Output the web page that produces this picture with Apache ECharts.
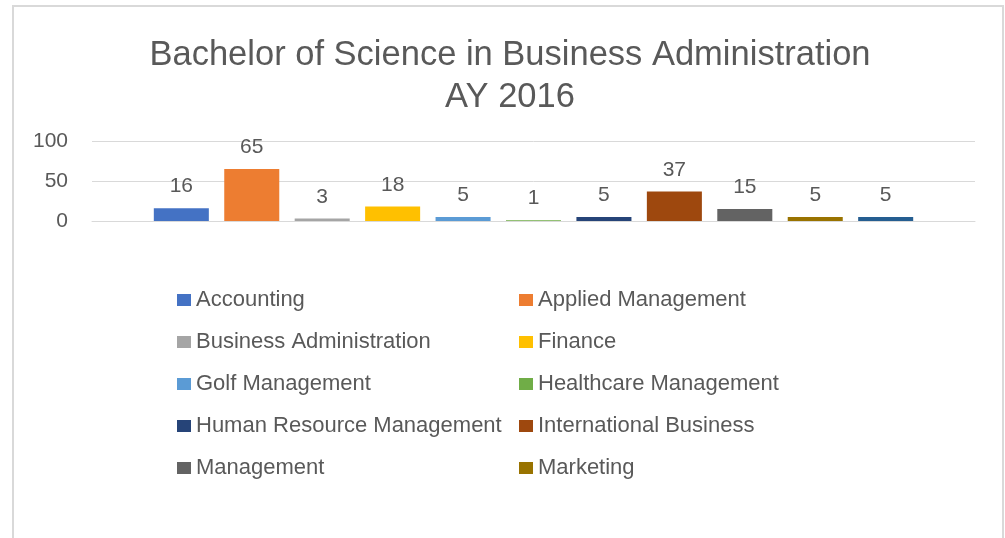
<!DOCTYPE html>
<html>
<head>
<meta charset="utf-8">
<title>BSBA AY 2016</title>
<script src="https://cdn.jsdelivr.net/npm/echarts@6/dist/echarts.min.js"></script>
<style>
    html, body { margin: 0; padding: 0; background: #fff; }
    #chart { width: 1005px; height: 538px; }
</style>
</head>
<body>
<div id="chart"></div>
<script>
// 数据
var majors = ['Accounting', 'Applied Management', 'Business Administration', 'Finance',
    'Golf Management', 'Healthcare Management', 'Human Resource Management',
    'International Business', 'Management', 'Marketing', 'Other'];
var counts = [16, 65, 3, 18, 5, 1, 5, 37, 15, 5, 5];
var colors = ['#4472C4', '#ED7D31', '#A5A5A5', '#FFC000', '#5B9BD5', '#70AD47',
    '#264478', '#9E480E', '#636363', '#997300', '#255E91'];
var yTicks = [0, 50, 100];
var legendLeft = ['Accounting', 'Business Administration', 'Golf Management',
    'Human Resource Management', 'Management'];
var legendRight = ['Applied Management', 'Finance', 'Healthcare Management',
    'International Business', 'Marketing'];

var font = '"Liberation Sans", Arial, sans-serif';

var series = [];
for (var i = 0; i < majors.length; i++) {
    series.push({
        name: majors[i],
        type: 'bar',
        data: [counts[i]],
        barGap: '28%',
        barCategoryGap: '14%',
        itemStyle: { color: colors[i] },
        label: {
            show: true,
            position: 'top',
            distance: 11,
            fontFamily: font,
            fontSize: 21,
            color: '#595959'
        }
    });
}

var legendText = { fontFamily: font, fontSize: 22, color: '#595959', lineHeight: 24 };

var myChart = echarts.init(document.getElementById('chart'));
myChart.setOption({
    animation: false,
    title: {
        text: 'Bachelor of Science in Business Administration\nAY 2016',
        left: 510,
        textAlign: 'center',
        top: 34,
        padding: 0,
        textStyle: {
            fontFamily: font,
            fontSize: 34.5,
            fontWeight: 'normal',
            color: '#595959',
            lineHeight: 42
        }
    },
    graphic: [{
        type: 'rect',
        silent: true,
        shape: { x: 13, y: 6, width: 990, height: 560 },
        style: { fill: 'none', stroke: '#d9d9d9', lineWidth: 2 }
    }],
    legend: [{
        orient: 'vertical',
        left: 177,
        top: 288,
        padding: 0,
        itemGap: 18,
        itemWidth: 14,
        itemHeight: 12,
        icon: 'rect',
        data: legendLeft,
        textStyle: legendText
    }, {
        orient: 'vertical',
        left: 519,
        top: 288,
        padding: 0,
        itemGap: 18,
        itemWidth: 14,
        itemHeight: 12,
        icon: 'rect',
        data: legendRight,
        textStyle: legendText
    }],
    grid: {
        left: 92,
        right: 30,
        top: 141,
        height: 80
    },
    xAxis: {
        type: 'category',
        data: [''],
        axisTick: { show: false },
        axisLabel: { show: false },
        axisLine: { lineStyle: { color: '#d9d9d9', width: 1 } }
    },
    yAxis: {
        type: 'value',
        min: yTicks[0],
        max: yTicks[yTicks.length - 1],
        interval: 50,
        axisLine: { show: false },
        axisTick: { show: false },
        axisLabel: {
            margin: 24,
            fontFamily: font,
            fontSize: 21,
            color: '#595959'
        },
        splitLine: { lineStyle: { color: '#d9d9d9', width: 1 } }
    },
    series: series
});
</script>
</body>
</html>
